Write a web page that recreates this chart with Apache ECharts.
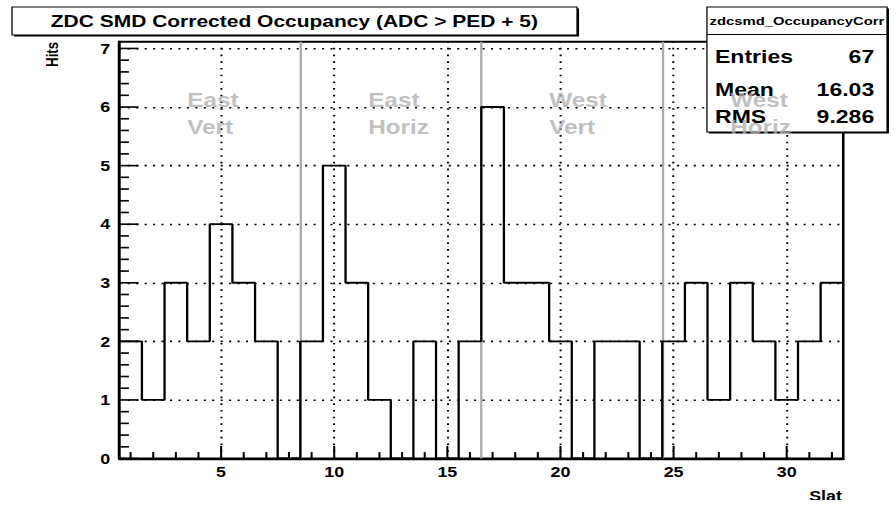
<!DOCTYPE html>
<html>
<head>
<meta charset="utf-8">
<script src="https://cdn.jsdelivr.net/npm/echarts@6/dist/echarts.min.js"></script>
<style>
  html, body { margin: 0; padding: 0; background: #fff; overflow: hidden; }
  /* drawn on a 700x500 canvas, then stretched to fill the 896x508 window */
  #chart { width: 700px; height: 500px; transform: scale(1.28, 1.016); transform-origin: 0 0; }
</style>
</head>
<body>
<div id="chart"></div>
<script>
// ---- histogram contents: hits per SMD slat ----
const slats = [1, 2, 3, 4, 5, 6, 7, 8, 9, 10, 11, 12, 13, 14, 15, 16,
               17, 18, 19, 20, 21, 22, 23, 24, 25, 26, 27, 28, 29, 30, 31, 32];
const hits  = [2, 1, 3, 2, 4, 3, 2, 0, 2, 5, 3, 1, 0, 2, 0, 2,
               6, 3, 3, 2, 0, 2, 2, 0, 2, 3, 1, 3, 2, 1, 2, 3];

// ---- axis ticks ----
const xTickLabels = [5, 10, 15, 20, 25, 30];
const yTickLabels = [0, 1, 2, 3, 4, 5, 6, 7];

// ---- detector sections ----
const sectionEdges = [8.5, 16.5, 24.5];
const sectionNames = ['East\nVert', 'East\nHoriz', 'West\nVert', 'West\nHoriz'];
const sectionLabelSlat = [3.5, 11.5, 19.5, 27.5];
const sectionLabelHits = [5.88, 5.88, 5.88, 5.88];

// ---- title and statistics box ----
const titleText = 'ZDC SMD Corrected Occupancy (ADC > PED + 5)';
const statsName = 'zdcsmd_OccupancyCorr';
const statsKeys = ['Entries', 'Mean', 'RMS'];
const statsValues = ['67', '16.03', '9.286'];

const FONT = '"Liberation Sans", Arial, Helvetica, sans-serif';
const X_MIN = 0.5, X_MAX = 32.5, Y_MIN = 0, Y_MAX = 7.116;
const GRID = { left: 93.2, right: 41.2, top: 41, bottom: 48.7 };

// histogram outline: one point per bin low edge, plus the closing edge
const stepData = slats.map((s, i) => [s - 0.5, hits[i]]);
stepData.push([slats[slats.length - 1] + 0.5, hits[hits.length - 1]]);

// minor tick positions: every slat on x, fifths of a hit on y
const xMinor = slats.filter(v => xTickLabels.indexOf(v) < 0);
const yMinor = [];
yTickLabels.forEach(k => {
  for (let j = 1; j < 5; j++) {
    const v = +(k + j * 0.2).toFixed(2);
    if (v < Y_MAX) yMinor.push(v);
  }
});

const dotted = { color: '#000', width: 1.6, type: [1.6, 5] };
const divider = { color: '#aaaaaa', width: 1.8, type: 'solid' };

const chart = echarts.init(document.getElementById('chart'), null, { renderer: 'svg' });

chart.setOption({
  animation: false,
  backgroundColor: '#fff',
  grid: Object.assign({ show: true, borderColor: '#000', borderWidth: 2, backgroundColor: 'transparent' }, GRID),
  xAxis: {
    type: 'value', min: X_MIN, max: X_MAX, position: 'bottom',
    axisLine: { lineStyle: { color: '#000', width: 2 } },
    axisTick: { show: false },
    axisLabel: {
      customValues: xTickLabels, color: '#000', fontWeight: 'bold',
      fontSize: 14, fontFamily: FONT, margin: 6
    },
    splitLine: { show: false }
  },
  yAxis: {
    type: 'value', min: Y_MIN, max: Y_MAX, position: 'left',
    axisLine: { show: true, lineStyle: { color: '#000', width: 2 } },
    axisTick: { show: false },
    axisLabel: {
      customValues: yTickLabels, color: '#000', fontWeight: 'bold',
      fontSize: 14, fontFamily: FONT, margin: 7
    },
    splitLine: { show: false }
  },
  series: [
    {
      name: 'Hits', type: 'line',
      step: 'end', data: stepData, symbol: 'none', z: 5,
      lineStyle: { color: '#000', width: 1.8 },
      // dotted grid at labelled ticks, grey lines between detector sections
      markLine: {
        silent: true, symbol: ['none', 'none'], label: { show: false }, animation: false,
        data: xTickLabels.map(v => ({ xAxis: v, lineStyle: dotted }))
          .concat(yTickLabels.filter(v => v > Y_MIN).map(v => ({ yAxis: v, lineStyle: dotted })))
          .concat(sectionEdges.map(v => ({ xAxis: v, lineStyle: divider })))
      }
    },
    {
      // section names
      type: 'scatter', z: 100, silent: true,
      symbolSize: 0,
      data: sectionLabelSlat.map((x, i) => [x, sectionLabelHits[i]]),
      label: {
        show: true, position: [0, 0], align: 'left', verticalAlign: 'middle',
        formatter: p => sectionNames[p.dataIndex],
        color: '#b0b0b0', fontWeight: 'bold', fontSize: 19, fontFamily: FONT, lineHeight: 27
      }
    }
  ]
});

// pixel position of a value on each axis, taken from the chart's own scales
const plotW = 700 - GRID.left - GRID.right;
const plotH = 500 - GRID.top - GRID.bottom;
function px(v) {
  let p = NaN;
  try { p = chart.convertToPixel({ xAxisIndex: 0 }, v); } catch (e) {}
  return isFinite(p) ? p : GRID.left + (v - X_MIN) / (X_MAX - X_MIN) * plotW;
}
function py(v) {
  let p = NaN;
  try { p = chart.convertToPixel({ yAxisIndex: 0 }, v); } catch (e) {}
  return isFinite(p) ? p : GRID.top + (Y_MAX - v) / (Y_MAX - Y_MIN) * plotH;
}

// tick marks pointing into the frame, drawn as thin filled bars
const TICK_W = 1.6;
const x0 = px(X_MIN), y0 = py(Y_MIN);
const xTickBar = (v, len) => ({
  type: 'rect', z: 60, silent: true,
  shape: { x: px(v) - TICK_W / 2, y: y0 - len, width: TICK_W, height: len },
  style: { fill: '#000' }
});
const yTickBar = (v, len) => ({
  type: 'rect', z: 60, silent: true,
  shape: { x: x0, y: py(v) - TICK_W / 2, width: len, height: TICK_W },
  style: { fill: '#000' }
});
const tickMarks = []
  .concat(xMinor.map(v => xTickBar(v, 6.3)))
  .concat(xTickLabels.map(v => xTickBar(v, 12.5)))
  .concat(yMinor.map(v => yTickBar(v, 7.5)))
  .concat(yTickLabels.map(v => yTickBar(v, 15)));

chart.setOption({
  graphic: tickMarks.concat([
    // title pave
    { type: 'rect', z: 50, shape: { x: 11, y: 8.4, width: 441.4, height: 27.5 }, style: { fill: '#000' } },
    { type: 'rect', z: 51, shape: { x: 9.4, y: 6.9, width: 441.4, height: 27.5 }, style: { fill: '#fff', stroke: '#000', lineWidth: 1 } },
    {
      type: 'text', z: 52, x: 230, y: 20.9,
      style: { text: titleText, align: 'center', verticalAlign: 'middle', fill: '#000', font: 'bold 16.4px ' + FONT }
    },
    // statistics pave
    { type: 'rect', z: 50, shape: { x: 553.8, y: 8.4, width: 140.7, height: 123.1 }, style: { fill: '#000' } },
    { type: 'rect', z: 51, shape: { x: 552.3, y: 6.9, width: 140.7, height: 123.1 }, style: { fill: '#fff', stroke: '#000', lineWidth: 1 } },
    { type: 'line', z: 52, shape: { x1: 552.3, y1: 34, x2: 693, y2: 34 }, style: { stroke: '#000', lineWidth: 1 } },
    {
      type: 'text', z: 52, x: 622.6, y: 21,
      style: { text: statsName, align: 'center', verticalAlign: 'middle', fill: '#000', font: 'bold 11.6px ' + FONT }
    }
  ]).concat(statsKeys.map((k, i) => ({
    type: 'text', z: 52, x: 558.6, y: [56, 87.6, 114.5][i],
    style: { text: k, align: 'left', verticalAlign: 'middle', fill: '#000', font: 'bold 18px ' + FONT }
  }))).concat(statsValues.map((v, i) => ({
    type: 'text', z: 52, x: 683, y: [56, 87.6, 114.5][i],
    style: { text: v, align: 'right', verticalAlign: 'middle', fill: '#000', font: 'bold 18px ' + FONT }
  }))).concat([
    // axis titles
    {
      type: 'text', z: 52, x: 657.8, y: 488,
      style: { text: 'Slat', align: 'right', verticalAlign: 'middle', fill: '#000', font: 'bold 14px ' + FONT }
    },
    {
      type: 'text', z: 52, x: 40.6, y: 41.3, rotation: Math.PI / 2,
      style: { text: 'Hits', align: 'right', verticalAlign: 'middle', fill: '#000', font: 'bold 13px ' + FONT }
    }
  ])
});
</script>
</body>
</html>
